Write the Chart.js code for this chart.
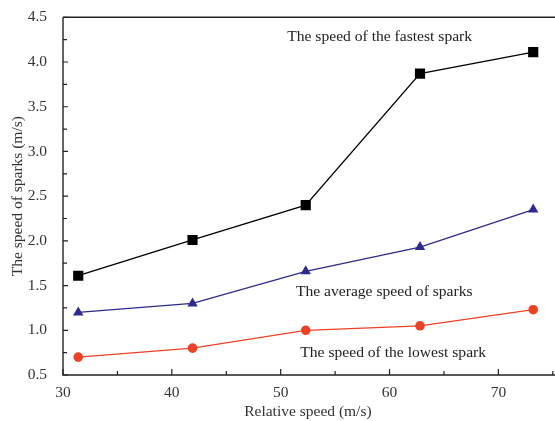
<!DOCTYPE html>
<html lang="en">
<head>
    <meta charset="UTF-8">
    <title>Spark speed</title>
    <script src="https://cdn.jsdelivr.net/npm/chart.js"></script>
    <style>
        html, body { margin: 0; padding: 0; background: #fff; overflow: hidden; }
        #wrap { width: 560px; height: 421px; }
    </style>
</head>
<body>
    <div id="wrap"><canvas id="sparkChart" width="560" height="421"></canvas></div>

    <script>
        // values
        const relSpeed = [31.4, 41.9, 52.3, 62.8, 73.2];
        const fastest = [1.61, 2.01, 2.40, 3.87, 4.11];
        const average = [1.20, 1.30, 1.66, 1.93, 2.35];
        const lowest = [0.70, 0.80, 1.00, 1.05, 1.23];

        const xTicks = [30, 40, 50, 60, 70];
        const yTicks = [0.5, 1.0, 1.5, 2.0, 2.5, 3.0, 3.5, 4.0, 4.5];

        const notes = [
            { text: 'The speed of the fastest spark', x: 50.6, y: 4.28 },
            { text: 'The average speed of sparks', x: 51.4, y: 1.43 },
            { text: 'The speed of the lowest spark', x: 51.8, y: 0.75 }
        ];

        const serif = '"Liberation Serif", "DejaVu Serif", serif';

        function pts(ys) {
            return relSpeed.map((x, i) => ({ x: x, y: ys[i] }));
        }

        // frame, inward ticks and the text notes
        const framePlugin = {
            id: 'frame',
            afterDraw(chart) {
                const ctx = chart.ctx;
                const a = chart.chartArea;
                const xs = chart.scales.x, ys = chart.scales.y;
                ctx.save();
                ctx.strokeStyle = '#222';
                ctx.lineWidth = 1.4;
                ctx.beginPath();
                ctx.moveTo(a.left, a.top);
                ctx.lineTo(a.right + 5, a.top);
                ctx.moveTo(a.left, a.top);
                ctx.lineTo(a.left, a.bottom);
                ctx.lineTo(a.right + 5, a.bottom);
                ctx.stroke();

                ctx.lineWidth = 1.2;
                ctx.beginPath();
                for (let v = 30; v <= 75; v += 5) {
                    const px = xs.getPixelForValue(v);
                    const len = v % 10 === 0 ? 6 : 4;
                    ctx.moveTo(px, a.bottom);
                    ctx.lineTo(px, a.bottom - len);
                }
                for (let v = 0.5; v <= 4.5001; v += 0.25) {
                    const py = ys.getPixelForValue(v);
                    const len = Math.abs(v * 2 - Math.round(v * 2)) < 1e-6 ? 5 : 4;
                    ctx.moveTo(a.left, py);
                    ctx.lineTo(a.left + len, py);
                }
                ctx.stroke();

                ctx.fillStyle = '#222';
                ctx.font = '15.6px ' + serif;
                ctx.textAlign = 'left';
                ctx.textBaseline = 'middle';
                notes.forEach(n => {
                    ctx.fillText(n.text, xs.getPixelForValue(n.x), ys.getPixelForValue(n.y));
                });
                ctx.restore();
            }
        };

        const ctx = document.getElementById('sparkChart').getContext('2d');
        const sparkChart = new Chart(ctx, {
            type: 'line',
            data: {
                datasets: [
                    {
                        label: 'Fastest',
                        data: pts(fastest),
                        borderColor: '#000',
                        backgroundColor: '#000',
                        borderWidth: 1.3,
                        pointStyle: 'rect',
                        pointRadius: 7.2,
                        pointBorderWidth: 0
                    },
                    {
                        label: 'Average',
                        data: pts(average),
                        borderColor: '#2f2a8e',
                        backgroundColor: '#2f2a8e',
                        borderWidth: 1.3,
                        pointStyle: 'triangle',
                        pointRadius: 6,
                        pointBorderWidth: 0
                    },
                    {
                        label: 'Lowest',
                        data: pts(lowest),
                        borderColor: '#ee4226',
                        backgroundColor: '#ee4226',
                        borderWidth: 1.3,
                        pointStyle: 'circle',
                        pointRadius: 4.8,
                        pointBorderWidth: 0
                    }
                ]
            },
            options: {
                responsive: false,
                animation: false,
                layout: { padding: { top: 15, right: 2, left: 0, bottom: 0 } },
                plugins: {
                    legend: { display: false },
                    tooltip: { enabled: false }
                },
                scales: {
                    x: {
                        type: 'linear',
                        min: 30,
                        max: 75,
                        afterFit(s) { s.height = 46; },
                        afterBuildTicks(s) { s.ticks = xTicks.map(v => ({ value: v })); },
                        grid: { display: false },
                        border: { display: false },
                        ticks: {
                            color: '#333',
                            padding: 1,
                            font: { family: serif, size: 15.5 },
                            maxRotation: 0
                        },
                        title: {
                            display: true,
                            text: 'Relative speed (m/s)',
                            color: '#333',
                            padding: { top: 0, bottom: 0 },
                            font: { family: serif, size: 15.5 }
                        }
                    },
                    y: {
                        type: 'linear',
                        min: 0.5,
                        max: 4.5,
                        afterFit(s) { s.width = 63; },
                        afterBuildTicks(s) { s.ticks = yTicks.map(v => ({ value: v })); },
                        grid: { display: false },
                        border: { display: false },
                        ticks: {
                            color: '#333',
                            padding: 8,
                            font: { family: serif, size: 15.5 },
                            callback: v => v.toFixed(1)
                        },
                        title: {
                            display: true,
                            text: 'The speed of sparks (m/s)',
                            color: '#333',
                            padding: { top: 9, bottom: 2 },
                            font: { family: serif, size: 15.5 }
                        }
                    }
                }
            },
            plugins: [framePlugin]
        });
    </script>
</body>
</html>
